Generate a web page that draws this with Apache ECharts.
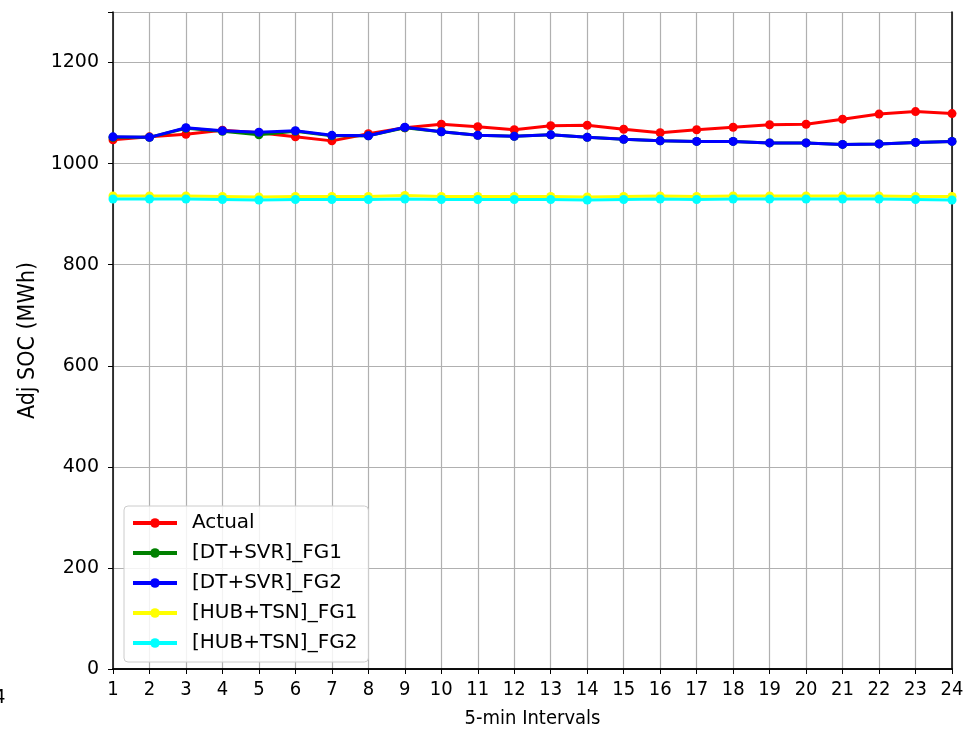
<!DOCTYPE html>
<html>
<head>
<meta charset="utf-8">
<script src="https://cdn.jsdelivr.net/npm/echarts@6/dist/echarts.min.js"></script>
<style>html,body{margin:0;padding:0;background:#fff}#c{width:967px;height:734px}</style>
</head>
<body>
<div id="c"></div>
<script>
var intervals = [1,2,3,4,5,6,7,8,9,10,11,12,13,14,15,16,17,18,19,20,21,22,23,24];
var actual   = [1047,1053,1058,1066,1061,1053,1045,1059,1071,1078,1073,1067,1075,1076,1068,1061,1067,1072,1077,1078,1088,1098,1103,1099];
var dtSvrFG1 = [1052,1052,1070,1064,1057,1064,1055,1055,1071,1063,1056,1054,1057,1052,1048,1045,1044,1044,1041,1041,1038,1039,1042,1044];
var dtSvrFG2 = [1053,1052,1071,1065,1062,1065,1056,1055,1072,1063,1056,1054,1057,1052,1048,1045,1044,1044,1041,1041,1038,1039,1042,1044];
var hubTsnFG1 = [936,936,936,935,934,935,935,935,937,935,935,935,935,934,935,936,935,936,936,936,936,936,935,935];
var hubTsnFG2 = [930,930,930,929,928,929,929,929,930,929,929,929,929,928,929,930,929,930,930,930,930,930,929,928];
var yTicks = [0,200,400,600,800,1000,1200];

function pts(vals){ return intervals.map(function(x,i){ return [x, vals[i]]; }); }
var names = ['Actual','[DT+SVR]_FG1','[DT+SVR]_FG2','[HUB+TSN]_FG1','[HUB+TSN]_FG2'];
var colors = ['#ff0000','#008000','#0000ff','#ffff00','#00ffff'];
var datas = [actual, dtSvrFG1, dtSvrFG2, hubTsnFG1, hubTsnFG2];
var narrow = '"DejaVu Sans Condensed", "Liberation Sans Narrow", "DejaVu Sans", sans-serif';

var series = names.map(function(n,i){
  return {
    name:n, type:'line', xAxisIndex:0, yAxisIndex:0,
    data:pts(datas[i]), symbol:'circle', symbolSize:9, showSymbol:true,
    lineStyle:{color:colors[i], width:3}, itemStyle:{color:colors[i]},
    emphasis:{disabled:true}, animation:false, z:2+i
  };
});

var chart = echarts.init(document.getElementById('c'), null, {renderer:'canvas'});
chart.setOption({
  animation:false,
  grid:{left:113, right:15, top:12, bottom:61, containLabel:false},
  legend:{
    orient:'vertical', left:124, top:506,
    padding:[2,11,4,7], itemGap:0, itemWidth:44, itemHeight:12,
    backgroundColor:'rgba(255,255,255,0.85)', borderColor:'#cccccc', borderWidth:1, borderRadius:4,
    textStyle:{fontFamily:'DejaVu Sans', fontSize:20, color:'#000', lineHeight:30, padding:[0,0,0,10]},
    lineStyle:{width:4},
    data:names
  },
  xAxis:[{
    type:'value', min:1, max:24, interval:1,
    name:'5-min Intervals', nameLocation:'middle', nameGap:40,
    nameTextStyle:{fontFamily:narrow, fontSize:20, color:'#000'},
    axisLine:{show:true, onZero:false, lineStyle:{color:'#000', width:1.5}},
    axisTick:{show:true, inside:false, length:5, lineStyle:{color:'#000', width:1}},
    axisLabel:{fontFamily:narrow, fontSize:20, color:'#000', margin:11},
    splitLine:{show:true, lineStyle:{color:'#b0b0b0', width:1.2}}
  },{
    type:'value', min:1, max:24, position:'top',
    axisLine:{show:true, lineStyle:{color:'#000', width:1.5}},
    axisTick:{show:false}, axisLabel:{show:false}, splitLine:{show:false}
  }],
  yAxis:[{
    type:'value', min:0, max:1300, interval:200,
    name:'Adj SOC (MWh)', nameLocation:'middle', nameGap:66, nameRotate:90,
    nameTextStyle:{fontFamily:narrow, fontSize:23, color:'#000'},
    axisLine:{show:true, onZero:false, lineStyle:{color:'#000', width:1.5}},
    axisTick:{show:true, inside:false, length:5, lineStyle:{color:'#000', width:1}},
    axisLabel:{fontFamily:'DejaVu Sans', fontSize:19, color:'#000', margin:14,
      formatter:function(v){ return yTicks.indexOf(v) >= 0 ? String(v) : ''; }},
    splitLine:{show:true, lineStyle:{color:'#b0b0b0', width:1.2}}
  },{
    type:'value', min:0, max:1300, position:'right',
    axisLine:{show:true, lineStyle:{color:'#000', width:1.5}},
    axisTick:{show:false}, axisLabel:{show:false}, splitLine:{show:false}
  }],
  graphic:[{
    type:'text', left:-6, top:688,
    style:{text:'4', fontFamily:narrow, fontSize:20, fill:'#000'}
  }],
  series:series
});
</script>
</body>
</html>
